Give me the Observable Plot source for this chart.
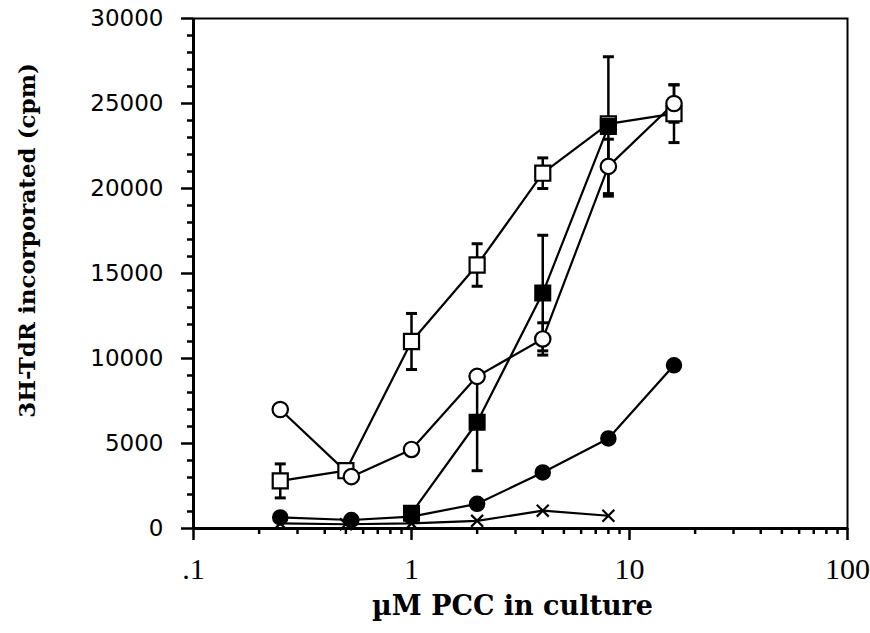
<!DOCTYPE html>
<html><head><meta charset="utf-8">
<script src="https://cdn.jsdelivr.net/npm/d3@7"></script>
<script src="https://cdn.jsdelivr.net/npm/@observablehq/plot@0.6"></script>
<style>body{margin:0;background:#fff}</style>
</head><body><div id="chart"></div>
<script>
// x values (µM PCC) and y values (cpm)
const openSquareX   = [0.25, 0.5, 1, 2, 4, 8, 16];
const openSquareY   = [2800, 3400, 11000, 15500, 20900, 23800, 24400];
const openSquareErr = [1000, 300, 1650, 1250, 900, 0, 1700];

const openCircleX   = [0.25, 0.53, 1, 2, 4, 8, 16];
const openCircleY   = [7000, 3050, 4650, 8950, 11150, 21300, 25000];
const openCircleErr = [0, 0, 0, 0, 950, 1600, 1100];

const filledSquareX   = [1, 2, 4, 8];
const filledSquareY   = [900, 6250, 13850, 23650];
const filledSquareErr = [0, 2850, 3400, 4100];

const filledCircleX = [0.25, 0.53, 1, 2, 4, 8, 16];
const filledCircleY = [650, 500, 700, 1450, 3300, 5300, 9600];

const crossX = [0.25, 0.5, 1, 2, 4, 8];
const crossY = [300, 250, 300, 450, 1050, 750];

const xMajorTicks = [0.1, 1, 10, 100];
const xTickLabels = [".1", "1", "10", "100"];
const xMinorTicks = [0.2,0.3,0.4,0.5,0.6,0.7,0.8,0.9,2,3,4,5,6,7,8,9,20,30,40,50,60,70,80,90];
const yMajorTicks = [0, 5000, 10000, 15000, 20000, 25000, 30000];
const yMinorTicks = d3.range(0, 30001, 1000).filter(v => v % 5000 !== 0);

const xTitle = "µM PCC in culture";
const yTitle = "3H-TdR incorporated (cpm)";

function rows(name, xs, ys, errs) {
  return xs.map((x, i) => ({series: name, x, y: ys[i], e: errs ? errs[i] : 0}));
}
const openSquares = rows("openSquare", openSquareX, openSquareY, openSquareErr);
const openCircles = rows("openCircle", openCircleX, openCircleY, openCircleErr);
const filledSquares = rows("filledSquare", filledSquareX, filledSquareY, filledSquareErr);
const filledCircles = rows("filledCircle", filledCircleX, filledCircleY);
const crosses = rows("cross", crossX, crossY);
const allRows = [...openSquares, ...openCircles, ...filledSquares, ...filledCircles, ...crosses];
const errRows = allRows.filter(d => d.e > 0);

const cap = {draw(ctx) { ctx.moveTo(-5.5, 0); ctx.lineTo(5.5, 0); }};

const serif = "'DejaVu Serif', serif";
const sans = "'DejaVu Sans', sans-serif";

const chart = Plot.plot({
  width: 870,
  height: 633,
  marginLeft: 193,
  marginRight: 23,
  marginTop: 18,
  marginBottom: 105,
  style: {background: "white", color: "black"},
  x: {type: "log", domain: [0.1, 100], axis: null},
  y: {domain: [0, 30000], axis: null},
  marks: [
    Plot.frame({strokeWidth: 2}),
    Plot.axisY(yMinorTicks, {anchor: "left", tickSize: 6, strokeWidth: 2.5, tickFormat: () => "", label: null}),
    Plot.axisY(yMajorTicks, {anchor: "left", tickSize: 12, tickPadding: 18, strokeWidth: 2.5,
      fontSize: 23, fontFamily: sans, tickFormat: d => String(d), label: null}),
    Plot.axisX(xMinorTicks, {anchor: "bottom", tickSize: 6, strokeWidth: 2.5, tickFormat: () => "", label: null}),
    Plot.axisX(xMajorTicks, {anchor: "bottom", tickSize: 12, tickPadding: 17, strokeWidth: 2.5,
      fontSize: 30, fontFamily: "'Liberation Serif', serif",
      tickFormat: d => xTickLabels[xMajorTicks.indexOf(d)], label: null}),
    Plot.ruleX([0.1], {strokeWidth: 3}),
    Plot.ruleY([0], {strokeWidth: 3}),
    Plot.line(allRows, {x: "x", y: "y", z: "series", stroke: "black", strokeWidth: 2.2}),
    Plot.ruleX(errRows, {x: "x", y1: d => d.y - d.e, y2: d => d.y + d.e, stroke: "black", strokeWidth: 2.5}),
    Plot.dot(errRows, {x: "x", y: d => d.y + d.e, symbol: cap, stroke: "black", strokeWidth: 3, fill: "none", r: 5}),
    Plot.dot(errRows, {x: "x", y: d => d.y - d.e, symbol: cap, stroke: "black", strokeWidth: 3, fill: "none", r: 5}),
    Plot.dot(filledCircles, {x: "x", y: "y", symbol: "circle", r: 7.5, fill: "black", stroke: "black"}),
    Plot.dot(crosses, {x: "x", y: "y", symbol: "times", r: 5.5, stroke: "black", strokeWidth: 2.2}),
    Plot.dot(openSquares, {x: "x", y: "y", symbol: "square", r: 8.5, fill: "white", stroke: "black", strokeWidth: 2.2}),
    Plot.dot(openCircles, {x: "x", y: "y", symbol: "circle", r: 7.7, fill: "white", stroke: "black", strokeWidth: 2.2}),
    Plot.dot(filledSquares, {x: "x", y: "y", symbol: "square", r: 8.5, fill: "black", stroke: "black", strokeWidth: 2}),
    Plot.text([yTitle], {text: d => d, frameAnchor: "left", textAnchor: "middle", rotate: -90, dx: -166, dy: -33,
      fontSize: 23, fontFamily: serif, fontWeight: "bold"}),
    Plot.text([xTitle], {text: d => d, frameAnchor: "bottom", textAnchor: "middle", dx: -8, dy: 86,
      fontSize: 27, fontFamily: serif, fontWeight: "bold"})
  ]
});
document.getElementById("chart").appendChild(chart);
</script>
</body></html>
